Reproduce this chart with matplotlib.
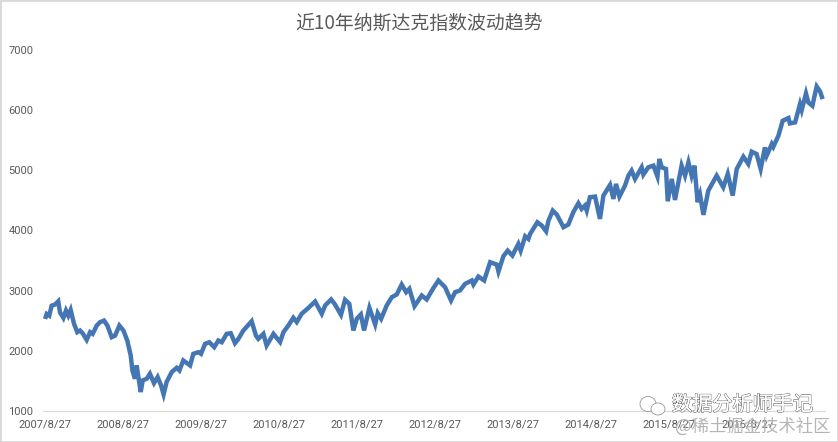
import pandas as pd
import matplotlib.pyplot as plt
import matplotlib.patheffects as pe
from matplotlib.patches import Ellipse, Rectangle

plt.rcParams['font.family'] = ['Noto Sans CJK SC', 'DejaVu Sans']

title = '近10年纳斯达克指数波动趋势'
start_date = '2007/8/27'
tick_labels = ['2007/8/27', '2008/8/27', '2009/8/27', '2010/8/27', '2011/8/27',
               '2012/8/27', '2013/8/27', '2014/8/27', '2015/8/27', '2016/8/27']
y_ticks = [1000, 2000, 3000, 4000, 5000, 6000, 7000]

# days since the first date
days_1 = [0, 8, 20, 31, 47, 62, 70, 86, 98, 109, 120, 136, 151, 164, 176, 195, 211, 223, 242, 257,
          276, 292, 312, 328, 348, 367, 385, 401, 409, 421, 429, 437, 448, 457, 476, 491, 510, 527,
          543, 555, 569, 593, 616, 629, 647, 679, 694, 718, 730, 749, 769, 792, 811, 827, 850, 869,
          889, 905, 928, 967, 987, 998, 1022, 1037, 1069, 1100]
close_1 = [2530, 2613, 2585, 2750, 2770, 2823, 2640, 2547, 2670, 2585, 2680, 2447, 2310, 2337, 2293,
           2182, 2310, 2282, 2420, 2475, 2503, 2420, 2227, 2254, 2420, 2337, 2171, 1923, 1674, 1536,
           1757, 1564, 1315, 1508, 1536, 1619, 1464, 1564, 1425, 1276, 1481, 1647, 1718, 1674, 1840,
           1757, 1950, 1978, 1950, 2116, 2143, 2061, 2171, 2143, 2282, 2293, 2127, 2199, 2337, 2492,
           2254, 2199, 2282, 2088, 2282, 2146]

days_2 = [1116, 1139, 1162, 1178, 1201, 1233, 1264, 1295, 1311, 1339, 1357, 1385, 1404, 1424, 1443,
          1459, 1478, 1493, 1518, 1545, 1557, 1573, 1599, 1623, 1646, 1669, 1690, 1705, 1729, 1763,
          1786, 1818, 1841, 1872, 1900, 1919, 1942, 1966, 1997, 2005, 2028, 2055, 2083, 2114, 2122,
          2145, 2165, 2187, 2215, 2226, 2247, 2262, 2270, 2304, 2325, 2345, 2356, 2376, 2395]
close_2 = [2312, 2422, 2550, 2478, 2616, 2715, 2820, 2616, 2754, 2854, 2771, 2599, 2848, 2782, 2339,
           2533, 2605, 2339, 2715, 2439, 2627, 2533, 2754, 2892, 2937, 3102, 2975, 3031, 2743, 2920,
           2854, 3047, 3169, 3058, 2837, 2975, 3003, 3114, 3169, 3102, 3235, 3169, 3473, 3434, 3318,
           3573, 3666, 3584, 3777, 3666, 3904, 3860, 3943, 4137, 4081, 3987, 4164, 4330, 4264]

days_3 = [2410, 2426, 2449, 2472, 2496, 2511, 2527, 2535, 2550, 2574, 2597, 2613, 2644, 2660, 2672,
          2688, 2714, 2730, 2745, 2761, 2792, 2800, 2823, 2847, 2866, 2875, 2886, 2906, 2914, 2933,
          2948, 2979, 2995, 3011, 3026, 3039, 3054, 3065, 3081, 3104, 3143, 3174, 3195, 3218, 3237,
          3268, 3291, 3307, 3330, 3349, 3369, 3377, 3401, 3408, 3432, 3452, 3479, 3486, 3510, 3533,
          3541, 3561, 3572, 3591, 3611, 3627, 3639]
close_3 = [4165, 4055, 4099, 4304, 4453, 4359, 4414, 4331, 4553, 4564, 4193, 4580, 4757, 4525, 4774,
           4564, 4746, 4912, 4995, 4857, 5050, 4929, 5050, 5078, 4895, 5189, 5050, 5023, 4486, 4857,
           4508, 5078, 4912, 5133, 4912, 5078, 4470, 4597, 4260, 4663, 4912, 4718, 4940, 4580, 5023,
           5227, 5106, 5310, 5271, 5023, 5382, 5244, 5437, 5390, 5576, 5824, 5869, 5780, 5797, 6101,
           6001, 6278, 6129, 6073, 6394, 6311, 6184]

days = days_1 + days_2 + days_3
close = close_1 + close_2 + close_3

tick_days = [(pd.to_datetime(t) - pd.to_datetime(start_date)).days for t in tick_labels]

fig = plt.figure(figsize=(8.38, 4.42), dpi=100)
ax = fig.add_axes([43 / 838, 31 / 442, 782 / 838, 361 / 442])

ax.plot(days, close, color='#4476B4', linewidth=3.2, solid_joinstyle='miter', solid_capstyle='butt')

ax.set_xlim(-9.4, 3650)
ax.set_ylim(1000, 7000)
ax.set_xticks(tick_days)
ax.set_xticklabels(tick_labels, family='Roboto')
ax.set_yticks(y_ticks)
ax.set_yticklabels([str(v) for v in y_ticks], family='Roboto')
ax.tick_params(length=0, labelsize=8, labelcolor='#595959')
ax.tick_params(axis='x', pad=6)
ax.tick_params(axis='y', pad=7)
for s in ['top', 'left', 'right']:
    ax.spines[s].set_visible(False)
ax.spines['bottom'].set_color('#D9D9D9')

fig.text(419 / 838, 1 - 23 / 442, title, ha='center', va='center', fontsize=13.6, color='#595959')

# watermark
outline = [pe.withStroke(linewidth=0.9, foreground='#666666'), pe.Normal()]
fig.text(672 / 838, 1 - 405 / 442, '数据分析师手记', ha='left', va='center', fontsize=14.5,
         color='white', path_effects=outline)
fig.text(675 / 838, 1 - 427 / 442, '@稀土掘金技术社区', ha='left', va='center', fontsize=12.5, color='#B5B5B5')
fig.add_artist(Ellipse((648 / 838, 1 - 404 / 442), 16 / 838, 15 / 442, fill=False, edgecolor='#999999',
                       linewidth=0.6, transform=fig.transFigure))
fig.add_artist(Ellipse((658 / 838, 1 - 409 / 442), 14 / 838, 12 / 442, facecolor='white', edgecolor='#999999',
                       linewidth=0.6, transform=fig.transFigure))

# thin frame round the picture
fig.add_artist(Rectangle((0, 0), 1, 1, fill=False, edgecolor='#D9D9D9', linewidth=2, transform=fig.transFigure))

fig.savefig('out.png', dpi=100)
